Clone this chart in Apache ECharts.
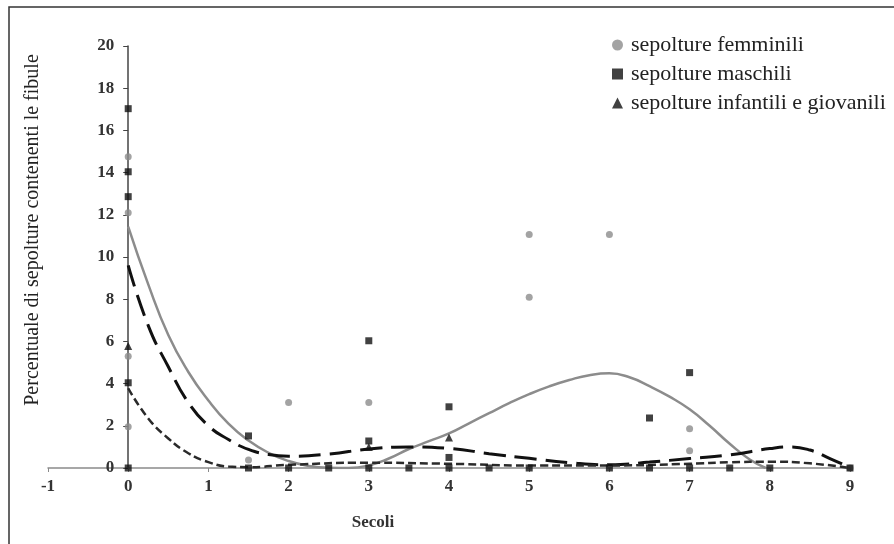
<!DOCTYPE html>
<html>
<head>
<meta charset="utf-8">
<script src="https://cdn.jsdelivr.net/npm/echarts@6/dist/echarts.min.js"></script>
<style>
  html, body { margin: 0; padding: 0; background: #fff; }
  #chart { width: 894px; height: 544px; }
</style>
</head>
<body>
<div id="chart"></div>
<script>
// punti osservati
const femaleX = [0, 0, 0, 0, 1.5, 2, 3, 5, 5, 6, 7, 7, 9];
const femaleY = [14.75, 12.1, 5.3, 1.96, 0.38, 3.1, 3.1, 11.07, 8.09, 11.07, 1.86, 0.82, 0];

const maleX = [0, 0, 0, 0, 0, 1.5, 1.5, 2, 2.5, 3, 3, 3, 3.5, 4, 4, 4, 4.5, 5, 6, 6.5, 6.5, 7, 7, 7.5, 8, 9];
const maleY = [17.03, 14.04, 12.86, 4.04, 0, 1.52, 0, 0, 0, 6.03, 1.28, 0, 0, 2.9, 0.5, 0, 0, 0, 0, 2.37, 0, 4.52, 0, 0, 0, 0];

const childX = [0, 3, 4];
const childY = [5.78, 1.0, 1.45];

// linee di tendenza
const femaleTrendX = [0, 0.25, 0.5, 0.75, 1, 1.25, 1.5, 1.75, 2, 2.25, 2.5, 2.75, 3, 3.25, 3.5, 3.75, 4, 4.25, 4.5, 4.75, 5, 5.25, 5.5, 5.75, 6, 6.25, 6.5, 6.75, 7, 7.25, 7.5, 7.75, 7.95];
const femaleTrendY = [11.44, 8.7, 6.3, 4.55, 3.2, 2.1, 1.3, 0.72, 0.33, 0.1, 0.01, 0.0, 0.12, 0.45, 0.9, 1.27, 1.64, 2.12, 2.6, 3.07, 3.5, 3.87, 4.17, 4.4, 4.49, 4.3, 3.88, 3.38, 2.78, 2.0, 1.15, 0.4, 0];

const maleTrendX = [0, 0.25, 0.5, 0.75, 1, 1.25, 1.5, 1.75, 2, 2.5, 3, 3.5, 4, 4.5, 5, 5.5, 6, 6.5, 7, 7.5, 8, 8.25, 8.5, 8.75, 9];
const maleTrendY = [9.6, 6.75, 4.8, 3.1, 2.0, 1.35, 0.88, 0.64, 0.56, 0.66, 0.9, 1.0, 0.93, 0.68, 0.46, 0.25, 0.15, 0.28, 0.45, 0.62, 0.92, 1.0, 0.85, 0.45, 0.02];

const childTrendX = [0, 0.25, 0.5, 0.75, 1, 1.25, 1.5, 2, 3, 4, 5, 6, 7, 7.5, 8, 8.5, 9];
const childTrendY = [3.78, 2.35, 1.4, 0.7, 0.28, 0.07, 0.04, 0.15, 0.25, 0.2, 0.12, 0.12, 0.2, 0.27, 0.3, 0.22, 0];

const seriesNames = ['sepolture femminili', 'sepolture maschili', 'sepolture infantili e giovanili'];

function pairs(xs, ys) {
  return xs.map((x, i) => [x, ys[i]]);
}

const font = 'Liberation Serif';
const chart = echarts.init(document.getElementById('chart'));

chart.setOption({
  animation: false,
  textStyle: { fontFamily: font },
  grid: { left: 48, right: 44, top: 46, bottom: 76 },
  legend: {
    data: [
      { name: seriesNames[0], icon: 'circle' },
      { name: seriesNames[1], icon: 'rect' },
      { name: seriesNames[2], icon: 'triangle' }
    ],
    orient: 'vertical',
    left: 607,
    top: 29,
    itemWidth: 11,
    itemHeight: 11,
    itemGap: 7,
    textStyle: { fontFamily: font, fontSize: 22, color: '#222', padding: [0, 0, 0, 3] }
  },
  xAxis: {
    type: 'value',
    min: -1,
    max: 9,
    interval: 1,
    splitLine: { show: false },
    axisLine: { lineStyle: { color: '#8a8a8a', width: 1.5 } },
    axisTick: { show: true, length: 4, lineStyle: { color: '#8a8a8a' } },
    axisLabel: { fontFamily: font, fontSize: 17, fontWeight: 'bold', color: '#333', margin: 10 }
  },
  yAxis: {
    type: 'value',
    min: 0,
    max: 20,
    interval: 2,
    // asse verticale spostato su x = 0
    offset: -80.2,
    splitLine: { show: false },
    axisLine: { show: true, onZero: false, lineStyle: { color: '#444', width: 1.5 } },
    axisTick: { show: true, length: 5, lineStyle: { color: '#444' } },
    axisLabel: { fontFamily: font, fontSize: 17, fontWeight: 'bold', color: '#333', margin: 14 }
  },
  graphic: [
    {
      type: 'rect',
      shape: { x: 9, y: 7, width: 900, height: 560 },
      style: { fill: 'none', stroke: '#333', lineWidth: 1.5 },
      silent: true
    },
    {
      type: 'text',
      x: 33,
      y: 230,
      rotation: Math.PI / 2,
      style: {
        text: 'Percentuale di sepolture contenenti le fibule',
        font: '20px "Liberation Serif"',
        fill: '#222',
        textAlign: 'center',
        textVerticalAlign: 'middle'
      }
    },
    {
      type: 'text',
      x: 373,
      y: 523,
      style: {
        text: 'Secoli',
        font: 'bold 17px "Liberation Serif"',
        fill: '#333',
        textAlign: 'center',
        textVerticalAlign: 'middle'
      }
    }
  ],
  series: [
    {
      name: 'trend femminili',
      type: 'line',
      data: pairs(femaleTrendX, femaleTrendY),
      smooth: 0.5,
      showSymbol: false,
      lineStyle: { color: '#8c8c8c', width: 2.5 },
      z: 2
    },
    {
      name: 'trend maschili',
      type: 'line',
      data: pairs(maleTrendX, maleTrendY),
      smooth: 0.5,
      showSymbol: false,
      lineStyle: { color: '#111', width: 3, type: [22, 9] },
      z: 2
    },
    {
      name: 'trend infantili',
      type: 'line',
      data: pairs(childTrendX, childTrendY),
      smooth: 0.5,
      showSymbol: false,
      lineStyle: { color: '#2a2a2a', width: 2.5, type: [8, 4] },
      z: 2
    },
    {
      name: seriesNames[0],
      type: 'scatter',
      data: pairs(femaleX, femaleY),
      symbol: 'circle',
      symbolSize: 7,
      itemStyle: { color: '#8c8c8c' },
      z: 3
    },
    {
      name: seriesNames[1],
      type: 'scatter',
      data: pairs(maleX, maleY),
      symbol: 'rect',
      symbolSize: 7,
      itemStyle: { color: '#111' },
      z: 3
    },
    {
      name: seriesNames[2],
      type: 'scatter',
      data: pairs(childX, childY),
      symbol: 'triangle',
      symbolSize: 8,
      itemStyle: { color: '#111' },
      z: 3
    }
  ]
});
</script>
</body>
</html>
